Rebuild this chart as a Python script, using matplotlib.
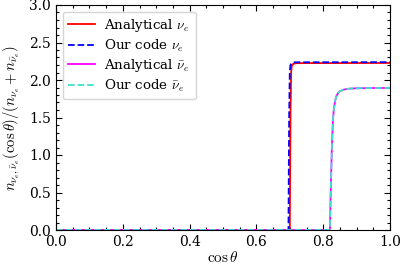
import matplotlib
matplotlib.use("Agg")
import matplotlib.pyplot as plt
from matplotlib.ticker import AutoMinorLocator

plt.rcParams['font.family'] = ['DejaVu Serif']
plt.rcParams['mathtext.fontset'] = 'cm'

# nu_e analytical
x_nu_an = [0.0, 0.700, 0.702, 0.704, 0.706, 0.710, 0.720, 1.0]
y_nu_an = [0.0, 0.0, 1.5, 2.10, 2.19, 2.215, 2.225, 2.227]
# nu_e code
x_nu_code = [0.0, 0.696, 0.698, 0.700, 0.702, 0.706, 0.715, 1.0]
y_nu_code = [0.0, 0.0, 1.5, 2.12, 2.20, 2.228, 2.236, 2.238]
# anti nu_e analytical / code
x_anu = [0.0, 0.820, 0.823, 0.826, 0.829, 0.832, 0.836, 0.840, 0.845, 0.850,
         0.860, 0.870, 0.880, 0.900, 0.950, 1.0]
y_anu = [0.0, 0.0, 0.6, 1.1, 1.45, 1.62, 1.73, 1.79, 1.83, 1.85,
         1.87, 1.88, 1.885, 1.89, 1.893, 1.894]

fig = plt.figure(figsize=(4.07, 2.71), dpi=100)
ax = fig.add_axes([56/407, 1-230/271, 334/407, 225/271])

ax.plot(x_nu_an, y_nu_an, color='red', lw=1.3, label=r'Analytical $\nu_e$')
ax.plot(x_nu_code, y_nu_code, color='blue', lw=1.3, ls='--', label=r'Our code $\nu_e$')
ax.plot(x_anu, y_anu, color='magenta', lw=1.3, label=r'Analytical $\bar{\nu}_e$')
ax.plot(x_anu, y_anu, color='turquoise', lw=1.3, ls='--', label=r'Our code $\bar{\nu}_e$')

ax.set_xlim(0, 1)
ax.set_ylim(0, 3)
ax.set_xticks([0, 0.2, 0.4, 0.6, 0.8, 1.0])
ax.set_yticks([0, 0.5, 1.0, 1.5, 2.0, 2.5, 3.0])
ax.xaxis.set_minor_locator(AutoMinorLocator(4))
ax.yaxis.set_minor_locator(AutoMinorLocator(5))
ax.tick_params(which='both', direction='in', top=True, right=True, labelsize=10, width=0.8)
ax.tick_params(which='major', length=4)
ax.tick_params(which='minor', length=2)
ax.set_xlabel(r'$\cos\theta$', fontsize=11, labelpad=1)
ax.set_ylabel(r'$n_{\nu_e,\bar{\nu}_e}(\cos\theta)/(n_{\nu_e}+n_{\bar{\nu}_e})$', fontsize=10.5, labelpad=5)
ax.legend(loc='upper left', fontsize=9.7, handlelength=2.0, handletextpad=0.7,
          borderpad=0.4, labelspacing=0.25)

fig.savefig('out.png', dpi=100)
